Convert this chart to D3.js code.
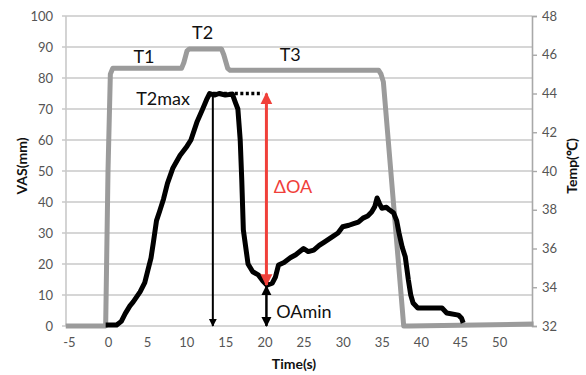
<!DOCTYPE html>
<html><head><meta charset="utf-8">
<script src="https://cdn.jsdelivr.net/npm/d3@7"></script>
<style>body{margin:0;background:#fff}svg{display:block}</style>
</head><body>
<svg id="c" width="586" height="375"></svg>
<script>
// ---- data ----
const xTicks = [-5, 0, 5, 10, 15, 20, 25, 30, 35, 40, 45, 50];
const vasTicks = [0, 10, 20, 30, 40, 50, 60, 70, 80, 90, 100];
const tempTicks = [32, 34, 36, 38, 40, 42, 44, 46, 48];

const tempTime = [-5.4, -0.3, 0.0, 0.3, 0.6, 9.4, 9.7, 10.1, 10.4, 14.5, 14.8, 15.3, 15.6, 34.6, 34.9, 35.2, 37.8, 38.5, 54.4];
const tempVal  = [32.0, 32.0, 40.0, 45.0, 45.3, 45.3, 45.6, 46.2, 46.3, 46.3, 46.0, 45.3, 45.2, 45.2, 45.0, 44.6, 32.0, 32.0, 32.1];

const vasTime = [-0.3, 1.1, 1.7, 2.2, 2.8, 3.2, 4.1, 4.7, 5.1, 5.5, 5.8, 6.2, 6.6, 7.1, 7.6, 8.3, 9.2, 10.1, 10.6, 11.4, 12.1, 12.6, 13.0, 13.6, 14.2, 15.0, 15.9, 16.3, 16.6, 16.9, 17.1, 17.3, 17.9, 18.5, 19.2, 19.8, 20.3, 21.0, 21.4, 21.8, 22.5, 23.3, 24.0, 25.0, 25.6, 26.3, 27.0, 27.6, 28.8, 29.4, 30.0, 30.8, 31.4, 32.0, 32.6, 33.2, 33.7, 34.1, 34.4, 34.7, 35.0, 35.6, 36.0, 36.5, 36.9, 37.2, 37.6, 38.0, 38.4, 38.7, 39.0, 39.6, 42.7, 43.3, 44.8, 45.2, 45.4];
const vasVal  = [0.3, 0.3, 1.5, 4, 6.5, 7.7, 11, 14, 18, 22, 27, 34, 37, 41, 46, 51, 55, 58, 60, 66, 70, 73, 75, 74.5, 75, 74.5, 74.8, 72, 70, 60, 47, 31, 20, 17.5, 16.5, 14.5, 13.2, 13.8, 15.8, 19.7, 20.5, 22, 23, 25, 24, 24.5, 26, 27, 29, 30, 32, 32.5, 33, 33.5, 34.8, 35.5, 36.8, 38.5, 41.3, 39.5, 38, 38.3, 37.4, 36.5, 34, 30, 25.5, 22.3, 14.8, 10, 7.4, 5.8, 5.8, 4.2, 3.5, 2.5, 1.0];

// annotation values
const t2maxTime = 13.4, peakVas = 75, minTime = 20.25, minVas = 13.2;
const labels = [
  {text: "T1", t: 4.6, v: 84.8, color: "#111", anchor: "middle"},
  {text: "T2", t: 12.1, v: 92.5, color: "#111", anchor: "middle"},
  {text: "T3", t: 23.3, v: 85.4, color: "#111", anchor: "middle"},
  {text: "T2max", t: 3.6, v: 71.2, color: "#111", anchor: "start"},
  {text: "ΔOA", t: 21.2, v: 42.8, color: "#f0403a", anchor: "start"},
  {text: "OAmin", t: 21.5, v: 2.6, color: "#111", anchor: "start"}
];

// ---- layout ----
const svg = d3.select("#c");
const L = 66, R = 532, T = 16, B = 326;
const x = d3.scaleLinear().domain([-5.37, 54.2]).range([L, R]);
const yV = d3.scaleLinear().domain([0, 100]).range([B, T]);
const yT = d3.scaleLinear().domain([32, 48]).range([B, T]);
const font = "Lato, 'Open Sans', sans-serif";

// gridlines
svg.append("g").selectAll("line").data(vasTicks).join("line")
  .attr("x1", L - 4).attr("x2", R).attr("y1", d => yV(d)).attr("y2", d => yV(d))
  .attr("stroke", "#c9c9c9").attr("stroke-width", 1.6);
// left axis line
svg.append("line").attr("x1", L).attr("x2", L).attr("y1", T).attr("y2", B)
  .attr("stroke", "#c9c9c9").attr("stroke-width", 1.6);
// right axis
const ra = svg.append("g").attr("transform", `translate(${R},0)`)
  .call(d3.axisRight(yT).tickValues(tempTicks).tickSize(5).tickPadding(5).tickFormat(d => String(d)));
ra.select(".domain").attr("stroke", "#a8a8a8").attr("stroke-width", 1.6);
ra.selectAll(".tick line").attr("stroke", "#a8a8a8").attr("stroke-width", 1.4);
ra.selectAll("text").attr("fill", "#555").style("font", `13px ${font}`);
// left tick labels
const la = svg.append("g").attr("transform", `translate(${L},0)`)
  .call(d3.axisLeft(yV).tickValues(vasTicks).tickSize(0).tickPadding(13).tickFormat(d => String(d)));
la.select(".domain").remove();
la.selectAll("text").attr("fill", "#555").style("font", `13px ${font}`);
// bottom tick labels
const ba = svg.append("g").attr("transform", `translate(0,${B})`)
  .call(d3.axisBottom(x).tickValues(xTicks).tickSize(0).tickPadding(12).tickFormat(d => String(d)));
ba.select(".domain").remove();
ba.selectAll("text").attr("fill", "#555").style("font", `13px ${font}`);

// axis titles
svg.append("text").attr("transform", `translate(27,166) rotate(-90)`).attr("text-anchor", "middle")
  .style("font", `bold 14px ${font}`).attr("fill", "#111").text("VAS(mm)");
svg.append("text").attr("transform", `translate(577,166) rotate(-90)`).attr("text-anchor", "middle")
  .style("font", `bold 14px ${font}`).attr("fill", "#111").text("Temp(℃)");
svg.append("text").attr("x", 294).attr("y", 369).attr("text-anchor", "middle")
  .style("font", `bold 14px ${font}`).attr("fill", "#111").text("Time(s)");

// temperature line
const tempData = tempTime.map((t, i) => [t, tempVal[i]]);
svg.append("path").datum(tempData)
  .attr("d", d3.line().x(d => x(d[0])).y(d => yT(d[1])))
  .attr("fill", "none").attr("stroke", "#9b9b9b").attr("stroke-width", 5).attr("stroke-linejoin", "round");

// VAS line
const vasData = vasTime.map((t, i) => [t, vasVal[i]]);
svg.append("path").datum(vasData)
  .attr("d", d3.line().x(d => x(d[0])).y(d => yV(d[1])))
  .attr("fill", "none").attr("stroke", "#000").attr("stroke-width", 5).attr("stroke-linejoin", "round");

// markers
const defs = svg.append("defs");
function marker(id, color) {
  defs.append("marker").attr("id", id).attr("viewBox", "0 0 10 10").attr("refX", 9).attr("refY", 5)
    .attr("markerWidth", 4).attr("markerHeight", 4.5).attr("markerUnits", "strokeWidth").attr("orient", "auto-start-reverse")
    .append("path").attr("d", "M0,0 L10,5 L0,10 z").attr("fill", color);
}
marker("ab", "#000");
marker("ar", "#f0403a");

// dotted line at peak
svg.append("line").attr("x1", x(t2maxTime)).attr("x2", x(minTime) - 4)
  .attr("y1", yV(peakVas)).attr("y2", yV(peakVas))
  .attr("stroke", "#000").attr("stroke-width", 3.5).attr("stroke-dasharray", "3,2.5");
// T2max arrow down
svg.append("line").attr("x1", x(t2maxTime)).attr("x2", x(t2maxTime))
  .attr("y1", yV(peakVas)).attr("y2", yV(0)).attr("stroke", "#000").attr("stroke-width", 2)
  .attr("marker-end", "url(#ab)");
// red ΔOA arrow
svg.append("line").attr("x1", x(minTime)).attr("x2", x(minTime))
  .attr("y1", yV(minVas)).attr("y2", yV(peakVas)).attr("stroke", "#f0403a").attr("stroke-width", 3)
  .attr("marker-end", "url(#ar)").attr("marker-start", "url(#ar)");
// OAmin arrow
svg.append("line").attr("x1", x(minTime)).attr("x2", x(minTime))
  .attr("y1", yV(minVas) + 1).attr("y2", yV(0)).attr("stroke", "#000").attr("stroke-width", 2.5)
  .attr("marker-end", "url(#ab)").attr("marker-start", "url(#ab)");

// labels
svg.append("g").selectAll("text").data(labels).join("text")
  .attr("x", d => x(d.t)).attr("y", d => yV(d.v)).attr("text-anchor", d => d.anchor)
  .attr("fill", d => d.color).style("font", `18px ${font}`).text(d => d.text);
</script>
</body></html>
